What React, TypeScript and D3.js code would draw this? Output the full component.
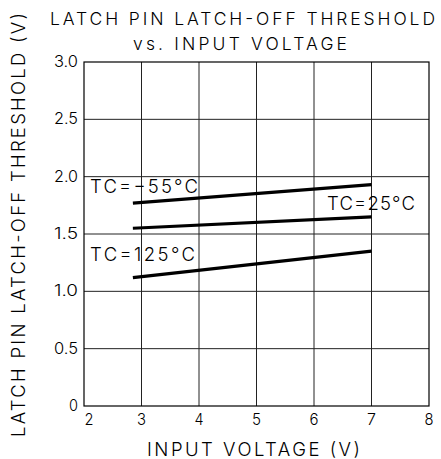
import React from "react";
import * as d3 from "d3";

const xTicks = [2, 3, 4, 5, 6, 7, 8];
const yTicks = [0, 0.5, 1.0, 1.5, 2.0, 2.5, 3.0];
const yTickLabels = ["0", "0.5", "1.0", "1.5", "2.0", "2.5", "3.0"];
const inputVoltage = [2.85, 7.0];
const tcMinus55 = [1.77, 1.93];
const tc25 = [1.55, 1.65];
const tc125 = [1.12, 1.35];
const curveNames = ["TC=\u221255\u00B0C", "TC=25\u00B0C", "TC=125\u00B0C"];

const W = 441;
const H = 459;
const FONT = "Inter, 'Open Sans', 'Liberation Sans', sans-serif";

export default function App() {
  const x = d3.scaleLinear().domain([2, 8]).range([84, 429]);
  const y = d3.scaleLinear().domain([0, 3]).range([406, 62]);
  const line = d3
    .line<[number, number]>()
    .x((d) => x(d[0]))
    .y((d) => y(d[1]));
  const series = [tcMinus55, tc25, tc125].map((vals) =>
    vals.map((v, i) => [inputVoltage[i], v] as [number, number])
  );

  const labelPos = [
    { x: 90, y: 193, len: 108 },
    { x: 327, y: 210, len: 88 },
    { x: 90, y: 261, len: 105 },
  ];

  return (
    <svg
      width={W}
      height={H}
      style={{ position: "absolute", left: 0, top: 0, background: "#fff" }}
      fontFamily={FONT}
      fontWeight={300}
    >
      <rect x={0} y={0} width={W} height={H} fill="#fff" />
      {/* grid */}
      {xTicks.slice(1, -1).map((t) => (
        <line key={"gx" + t} x1={x(t)} x2={x(t)} y1={y(0)} y2={y(3)} stroke="#222" strokeWidth={1} />
      ))}
      {yTicks.slice(1, -1).map((t) => (
        <line key={"gy" + t} x1={x(2)} x2={x(8)} y1={y(t)} y2={y(t)} stroke="#222" strokeWidth={1} />
      ))}
      <rect x={x(2)} y={y(3)} width={x(8) - x(2)} height={y(0) - y(3)} fill="none" stroke="#000" strokeWidth={1.2} />

      {/* y tick labels */}
      {yTicks.map((t, i) => (
        <text key={"yt" + t} x={78} y={y(t) + 5} textAnchor="end" fontSize={15.5} fill="#000"
          textLength={yTickLabels[i].length === 1 ? 9 : 24} lengthAdjust="spacingAndGlyphs">
          {yTickLabels[i]}
        </text>
      ))}
      {/* x tick labels */}
      {xTicks.map((t, i) => (
        <text key={"xt" + t} x={x(t) + (i === 0 ? 5 : 0)} y={425} textAnchor="middle" fontSize={15.5} fill="#000"
          textLength={9} lengthAdjust="spacingAndGlyphs">
          {t}
        </text>
      ))}

      {/* curves */}
      {series.map((s, i) => (
        <path key={"s" + i} d={line(s) || ""} fill="none" stroke="#000" strokeWidth={3.2} />
      ))}
      {curveNames.map((n, i) => (
        <text
          key={"cn" + i}
          x={labelPos[i].x}
          y={labelPos[i].y}
          fontSize={18.5}
          textLength={labelPos[i].len}
          lengthAdjust="spacing"
          fill="#000"
        >
          {n}
        </text>
      ))}

      {/* titles */}
      <text x={50} y={25} fontSize={17.5} textLength={385} lengthAdjust="spacing" fill="#000">
        LATCH PIN LATCH-OFF THRESHOLD
      </text>
      <text x={133} y={50} fontSize={17.5} textLength={214} lengthAdjust="spacing" fill="#000">
        vs. INPUT VOLTAGE
      </text>
      <text x={147} y={456} fontSize={18.5} textLength={213} lengthAdjust="spacing" fill="#000">
        INPUT VOLTAGE (V)
      </text>
      <text
        transform="translate(25,437) rotate(-90)"
        x={0}
        y={0}
        fontSize={18.5}
        textLength={424}
        lengthAdjust="spacing"
        fill="#000"
      >
        LATCH PIN LATCH-OFF THRESHOLD (V)
      </text>
    </svg>
  );
}
